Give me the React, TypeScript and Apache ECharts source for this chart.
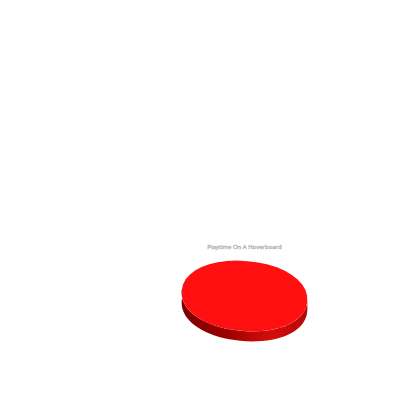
import React, { useEffect, useRef } from "react";
import * as echarts from "echarts";

const chartTitle = "Playtime On A Hoverboard";
const categories = ["Playtime On A Hoverboard"];
const seriesValues = [100];

export default function App() {
  const ref = useRef<HTMLDivElement>(null);
  useEffect(() => {
    document.body.style.margin = "0";
    const chart = echarts.init(ref.current!, null, { renderer: "svg", width: 420, height: 420 });
    const total = seriesValues.reduce((a, b) => a + b, 0);
    const cx = 244.5, cy = 296, rx = 63, ry = 35, depth = 10, power = 2 / 2.1;
    const rot = (5 * Math.PI) / 180;
    const at = (t: number, dy = 0) => {
      const c = Math.cos(t), s = Math.sin(t);
      const x = rx * Math.sign(c) * Math.pow(Math.abs(c), power);
      const y = ry * Math.sign(s) * Math.pow(Math.abs(s), power);
      return [cx + x * Math.cos(rot) - y * Math.sin(rot), cy + x * Math.sin(rot) + y * Math.cos(rot) + dy];
    };
    chart.setOption({
      animation: false,
      backgroundColor: "#ffffff",
      title: {
        text: chartTitle,
        left: 239.5,
        top: 239,
        textAlign: "center",
        textStyle: {
          fontFamily: "Open Sans",
          fontSize: 6,
          fontWeight: "normal",
          color: "#a8a8a8",
          textBorderColor: "#c8c8c8",
          textBorderWidth: 0.4,
        },
      },
      series: [
        {
          type: "custom",
          coordinateSystem: "none",
          silent: true,
          data: seriesValues.map((v, i) => ({ name: categories[i], value: v })),
          renderItem: (params: any, api: any) => {
            const sweep = (api.value(0) / total) * Math.PI * 2;
            const n = 40;
            const top: number[][] = [];
            for (let i = 0; i <= n; i++) top.push(at((i / n) * sweep));
            const side: number[][] = [];
            for (let i = 0; i <= n; i++) side.push(at((i / n) * Math.PI * 1.05 - 0.02 * Math.PI));
            for (let i = n; i >= 0; i--) side.push(at((i / n) * Math.PI * 1.05 - 0.02 * Math.PI, depth));
            return {
              type: "group",
              children: [
                {
                  type: "polygon",
                  shape: { points: side },
                  style: {
                    fill: new echarts.graphic.LinearGradient(0, 0, 1, 0, [
                      { offset: 0, color: "#7a0000" },
                      { offset: 0.35, color: "#9c0000" },
                      { offset: 0.7, color: "#d40c0c" },
                      { offset: 1, color: "#b80808" },
                    ]),
                  },
                },
                { type: "polygon", shape: { points: top }, style: { fill: "#ff0f0f" } },
              ],
            };
          },
        },
      ],
    });
    return () => chart.dispose();
  }, []);
  return <div ref={ref} style={{ width: 420, height: 420 }} />;
}
